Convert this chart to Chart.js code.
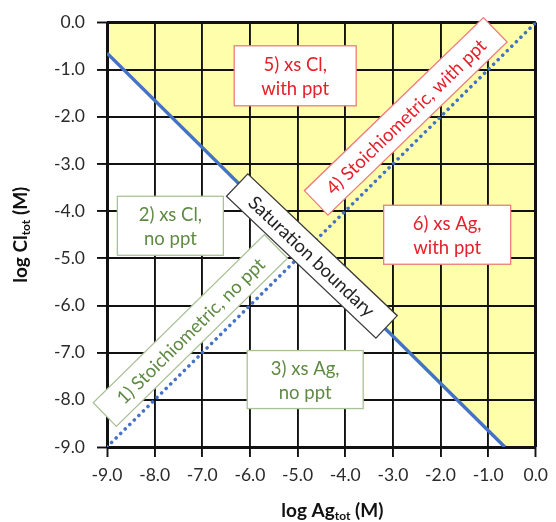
<!DOCTYPE html>
<html>
<head>
<meta charset="utf-8">
<script src="https://cdn.jsdelivr.net/npm/chart.js@4"></script>
<style>
html,body{margin:0;padding:0;background:#fff;}
#wrap{width:556px;height:522px;position:relative;}
</style>
</head>
<body>
<div id="wrap"><canvas id="c" width="556" height="522"></canvas></div>
<script>
// ---- data ----
const tickValues = [-9, -8, -7, -6, -5, -4, -3, -2, -1, 0];
const xTickLabels = ['-9.0','-8.0','-7.0','-6.0','-5.0','-4.0','-3.0','-2.0','-1.0','0.0'];
const yTickLabels = ['-9.0','-8.0','-7.0','-6.0','-5.0','-4.0','-3.0','-2.0','-1.0','0.0'];
// stoichiometric line (log Cl = log Ag)
const stoichAg = [-9.0, 0.0];
const stoichCl = [-9.0, 0.0];
// saturation boundary (log Ag + log Cl = log Ksp)
const satAg = [-9.0, -0.65];
const satCl = [-0.65, -9.0];
// precipitation (supersaturated) region lower edge
const pptAg = [-9.0, -0.65, 0.0];
const pptCl = [-0.65, -9.0, -9.0];
// region labels
const noteTexts = [
  ['5) xs Cl,', 'with ppt'],
  ['4) Stoichiometric, with ppt'],
  ['6) xs Ag,', 'with ppt'],
  ['2) xs Cl,', 'no ppt'],
  ['Saturation boundary'],
  ['1) Stoichiometric, no ppt'],
  ['3) xs Ag,', 'no ppt']
];
const noteAg = [-5.05, -2.73, -1.86, -7.67, -4.70, -7.25, -4.84];
const noteCl = [-1.13, -1.99, -4.50, -4.31, -4.95, -6.53, -7.57];

// ---- styles ----
const RED = '#E5202B', RED_B = '#EF7B7B';
const GREEN = '#5E8A43', GREEN_B = '#A9C196';
const DARK = '#222222', DARK_B = '#3a3a3a';
const noteStyle = [
  {w:122,h:60,rot:0,c:RED,b:RED_B},
  {w:249,h:34,rot:-44,c:RED,b:RED_B},
  {w:127,h:59,rot:0,c:RED,b:RED_B},
  {w:106,h:59,rot:0,c:GREEN,b:GREEN_B},
  {w:206,h:31,rot:43.5,c:DARK,b:DARK_B},
  {w:240,h:33,rot:-44.5,c:GREEN,b:GREEN_B},
  {w:116,h:58,rot:0,c:GREEN,b:GREEN_B}
];
const FONT = 'Lato, "Open Sans", sans-serif';

const toXY = (xs, ys) => xs.map((x, i) => ({x: x, y: ys[i]}));

const notesPlugin = {
  id: 'notes',
  afterDatasetsDraw(chart) {
    const ctx = chart.ctx, xs = chart.scales.x, ys = chart.scales.y;
    noteTexts.forEach((lines, i) => {
      const s = noteStyle[i];
      const px = xs.getPixelForValue(noteAg[i]);
      const py = ys.getPixelForValue(noteCl[i]);
      ctx.save();
      ctx.translate(px, py);
      ctx.rotate(s.rot * Math.PI / 180);
      ctx.fillStyle = '#ffffff';
      ctx.fillRect(-s.w/2, -s.h/2, s.w, s.h);
      ctx.lineWidth = 1.3;
      ctx.strokeStyle = s.b;
      ctx.strokeRect(-s.w/2, -s.h/2, s.w, s.h);
      ctx.fillStyle = s.c;
      ctx.font = '18.5px ' + FONT;
      ctx.textAlign = 'center';
      ctx.textBaseline = 'middle';
      const lh = 24;
      lines.forEach((t, k) => {
        ctx.fillText(t, 0, (k - (lines.length - 1) / 2) * lh + 1);
      });
      ctx.restore();
    });
  }
};

function drawSubTitle(ctx, parts, cx, cy) {
  let total = 0;
  parts.forEach(p => {
    ctx.font = 'bold ' + (p[1] ? 12 : 19) + 'px ' + FONT;
    total += ctx.measureText(p[0]).width;
  });
  let x = cx - total / 2;
  parts.forEach(p => {
    ctx.font = 'bold ' + (p[1] ? 12 : 19) + 'px ' + FONT;
    ctx.fillText(p[0], x, cy + (p[1] ? 5 : 0));
    x += ctx.measureText(p[0]).width;
  });
}

const titlesPlugin = {
  id: 'titles',
  afterDraw(chart) {
    const ctx = chart.ctx, a = chart.chartArea;
    ctx.save();
    ctx.fillStyle = '#111';
    ctx.textAlign = 'left';
    ctx.textBaseline = 'middle';
    drawSubTitle(ctx, [['log Ag', false], ['tot', true], [' (M)', false]], (a.left + a.right) / 2 + 11, 511);
    ctx.translate(21, (a.top + a.bottom) / 2);
    ctx.rotate(-Math.PI / 2);
    drawSubTitle(ctx, [['log Cl', false], ['tot', true], [' (M)', false]], 0, 0);
    ctx.restore();
  }
};

const gridW = (c) => (c.index === 0 || c.index === tickValues.length - 1) ? 3 : 1.9;

new Chart(document.getElementById('c'), {
  type: 'line',
  data: {
    datasets: [
      {
        label: 'Stoichiometric',
        data: toXY(stoichAg, stoichCl),
        borderColor: '#4472C4',
        borderWidth: 3.5,
        borderDash: [0.1, 6.3],
        borderCapStyle: 'round',
        pointRadius: 0,
        fill: false,
        order: 1
      },
      {
        label: 'Saturation boundary',
        data: toXY(satAg, satCl),
        borderColor: '#4472C4',
        borderWidth: 3.5,
        pointRadius: 0,
        fill: false,
        order: 0
      },
      {
        label: 'Precipitation',
        data: toXY(pptAg, pptCl),
        borderWidth: 0,
        borderColor: 'rgba(0,0,0,0)',
        backgroundColor: '#FFFFAB',
        pointRadius: 0,
        fill: 'end',
        order: 2
      }
    ]
  },
  options: {
    responsive: false,
    animation: false,
    events: [],
    layout: {padding: {top: 18, right: 16, left: 0, bottom: 0}},
    plugins: {
      legend: {display: false},
      tooltip: {enabled: false},
      filler: {drawTime: 'beforeDraw'}
    },
    scales: {
      x: {
        type: 'linear',
        min: -9, max: 0,
        afterBuildTicks: (s) => { s.ticks = tickValues.map(v => ({value: v})); },
        afterFit: (s) => { s.height = 75; },
        ticks: {
          callback: (v) => xTickLabels[tickValues.indexOf(v)],
          color: '#2a2a2a',
          font: {size: 17.5, family: FONT},
          padding: 8,
          maxRotation: 0
        },
        grid: {color: '#111', lineWidth: gridW, tickLength: 10, tickWidth: 1.9, tickColor: '#111'},
        border: {display: false}
      },
      y: {
        type: 'linear',
        min: -9, max: 0,
        afterBuildTicks: (s) => { s.ticks = tickValues.map(v => ({value: v})); },
        afterFit: (s) => { s.width = 107; },
        ticks: {
          callback: (v) => yTickLabels[tickValues.indexOf(v)],
          color: '#2a2a2a',
          font: {size: 17.5, family: FONT},
          padding: 12
        },
        grid: {color: '#111', lineWidth: gridW, tickLength: 10, tickWidth: 1.9, tickColor: '#111'},
        border: {display: false}
      }
    }
  },
  plugins: [notesPlugin, titlesPlugin]
});
</script>
</body>
</html>
